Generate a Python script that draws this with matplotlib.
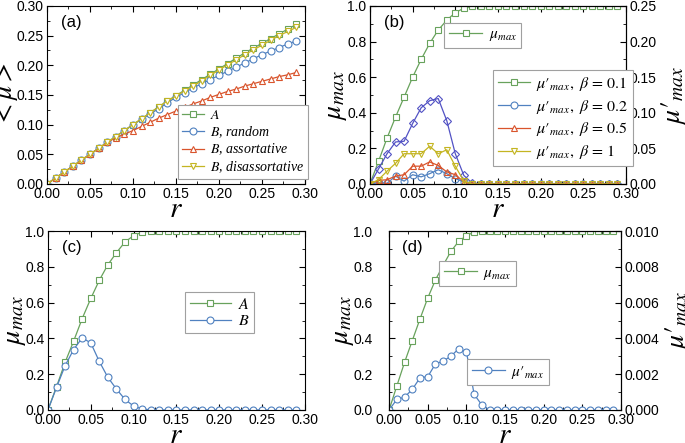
import numpy as np
import matplotlib
matplotlib.use("Agg")
import matplotlib.pyplot as plt
from matplotlib.lines import Line2D
from matplotlib.ticker import MultipleLocator

plt.rcParams['font.family'] = ['Liberation Sans', 'DejaVu Sans']
plt.rcParams['mathtext.fontset'] = 'stix'

r = np.round(np.arange(30) * 0.01, 2)

# panel (a)
a_A = [0, 0.01, 0.02, 0.03, 0.04, 0.05, 0.06, 0.07, 0.08, 0.09, 0.10, 0.11, 0.12, 0.13, 0.14,
       0.149, 0.158, 0.167, 0.176, 0.185, 0.194, 0.203, 0.212, 0.221, 0.229, 0.237, 0.245,
       0.253, 0.261, 0.269]
a_rand = [0, 0.01, 0.02, 0.03, 0.04, 0.05, 0.06, 0.07, 0.08, 0.09, 0.10, 0.109, 0.118, 0.127,
          0.137, 0.146, 0.154, 0.162, 0.169, 0.176, 0.183, 0.190, 0.197, 0.204, 0.211, 0.218,
          0.224, 0.230, 0.236, 0.241]
a_assort = [0, 0.01, 0.02, 0.03, 0.04, 0.05, 0.06, 0.07, 0.078, 0.084, 0.090, 0.097, 0.104,
            0.111, 0.117, 0.123, 0.129, 0.135, 0.140, 0.146, 0.151, 0.156, 0.160, 0.165, 0.169,
            0.173, 0.177, 0.181, 0.184, 0.188]
a_disassort = [0, 0.01, 0.02, 0.03, 0.04, 0.05, 0.06, 0.07, 0.08, 0.09, 0.10, 0.11, 0.12, 0.13,
               0.14, 0.148, 0.157, 0.165, 0.174, 0.183, 0.192, 0.201, 0.209, 0.218, 0.226,
               0.234, 0.242, 0.250, 0.257, 0.264]

# panel (b)
b_mu = [0, 0.127, 0.258, 0.376, 0.488, 0.60, 0.70, 0.79, 0.865, 0.92, 0.963, 0.987] + [1.0] * 18
b_beta01 = [0, 0.021, 0.0425, 0.059, 0.060, 0.085, 0.107, 0.117, 0.120, 0.089, 0.0425, 0.012,
            0.001] + [0] * 17
b_beta02 = [0, 0.002, 0.001, 0.011, 0.004, 0.013, 0.010, 0.0145, 0.020, 0.0145, 0.0075, 0.003,
            0] + [0] * 17
b_beta05 = [0, 0.005, 0.006, 0.011, 0.013, 0.025, 0.025, 0.031, 0.026, 0.017, 0.013, 0.003,
            0] + [0] * 17
b_beta1 = [0, 0.006, 0.018, 0.029, 0.0425, 0.0425, 0.0425, 0.053, 0.0425, 0.048, 0.025, 0.004,
           0] + [0] * 17

# panel (c)
c_A = [0, 0.13, 0.266, 0.385, 0.511, 0.623, 0.725, 0.812, 0.879, 0.939, 0.974, 0.994] + [1.0] * 18
c_B = [0, 0.126, 0.247, 0.338, 0.403, 0.375, 0.271, 0.182, 0.117, 0.059, 0.022, 0.006,
       0.001] + [0] * 17

# panel (d)
d_mu = [0, 0.134, 0.266, 0.388, 0.509, 0.626, 0.727, 0.809, 0.887, 0.942, 0.974, 0.994] + [1.0] * 18
d_mup = [0, 0.00059, 0.00072, 0.00115, 0.0018, 0.00186, 0.00258, 0.00273, 0.00301, 0.00342,
         0.00325, 0.00087, 0.00028] + [0] * 17

GREEN = '#68a25c'
BLUE = '#5081c0'
ORANGE = '#d9542c'
YELLOW = '#c4b522'
PURPLE = '#5252c4'

MU = r'$\mu_{max}$'
MUP = r'$\mu\prime_{max}$'

W, H = 685, 443


def style(ax, ymaj, right=True, ypad=2.5):
    ax.set_xlim(0, 0.30)
    ax.xaxis.set_major_locator(MultipleLocator(0.05))
    ax.xaxis.set_minor_locator(MultipleLocator(0.025))
    ax.yaxis.set_major_locator(MultipleLocator(ymaj))
    ax.yaxis.set_minor_locator(MultipleLocator(ymaj / 2))
    ax.tick_params(which='both', direction='in', top=True, right=right, labelsize=10,
                   pad=2.5)
    ax.tick_params(axis='y', which='both', pad=ypad)
    ax.tick_params(which='major', length=4)
    ax.tick_params(which='minor', length=2)
    ax.xaxis.set_major_formatter(plt.FormatStrFormatter('%.2f'))
    ax.set_xlabel('$r$', fontsize=21)
    ax.xaxis.set_label_coords(0.5, -0.06)


def right_axis(ax2, top, step, fmt):
    ax2.set_ylim(0, top)
    ax2.yaxis.set_major_locator(MultipleLocator(step))
    ax2.yaxis.set_minor_locator(MultipleLocator(step / 2))
    ax2.yaxis.set_major_formatter(plt.FormatStrFormatter(fmt))
    ax2.tick_params(which='both', direction='in', labelsize=10, pad=2.5)
    ax2.tick_params(which='major', length=4)
    ax2.tick_params(which='minor', length=2)


def ylab(text, x, y, size=20):
    # y-axis titles placed in figure pixels (from the top-left corner)
    fig.text(x / W, 1 - y / H, text, rotation=90, ha='center', va='center', fontsize=size)


def line(ax, y, c, m, ms=5, mfc='white', **kw):
    return ax.plot(r, y, color=c, marker=m, ms=ms, mfc=mfc, mec=c, lw=0.9, mew=0.8, **kw)[0]


def box(leg):
    leg.get_frame().set_linewidth(0.8)
    leg.get_frame().set_edgecolor('#a0a0a0')
    return leg


LEGKW = dict(loc='upper left', fancybox=False, framealpha=1, handlelength=2.2,
             borderpad=0.3, handletextpad=0.4, borderaxespad=0)

fig = plt.figure(figsize=(6.85, 4.43), dpi=100)

# (a)
ax = fig.add_axes([0.0686, 0.5847, 0.3766, 0.4018])
line(ax, a_A, GREEN, 's', label='$A$')
line(ax, a_rand, BLUE, 'o', label='$B$, random')
line(ax, a_assort, ORANGE, '^', label='$B$, assortative')
line(ax, a_disassort, YELLOW, 'v', label='$B$, disassortative')
style(ax, 0.05)
ax.set_ylim(0, 0.30)
ax.yaxis.set_major_formatter(plt.FormatStrFormatter('%.2f'))
ylab(r'$<\mu>$', 7, 95)
ax.text(0.055, 0.95, '(a)', transform=ax.transAxes, fontsize=12, va='top')
box(ax.legend(prop=dict(family='Liberation Serif', style='italic', size=10),
              bbox_to_anchor=(0.507, 0.445), labelspacing=0.15,
              **{**LEGKW, 'handlelength': 1.6}))

# (b)
ax = fig.add_axes([0.5401, 0.5847, 0.3737, 0.4018])
h_mu = line(ax, b_mu, GREEN, 's')
style(ax, 0.2, right=False)
ax.set_ylim(0, 1.0)
ax.yaxis.set_major_formatter(plt.FormatStrFormatter('%.1f'))
ylab(MU, 336, 95)
ax.text(0.055, 0.95, '(b)', transform=ax.transAxes, fontsize=12, va='top')
ax2 = ax.twinx()
line(ax2, b_beta01, PURPLE, 'D', ms=4.5, mfc='none')
line(ax2, b_beta02, BLUE, 'o', mfc='none')
line(ax2, b_beta05, ORANGE, '^', mfc='none')
line(ax2, b_beta1, YELLOW, 'v', mfc='none')
right_axis(ax2, 0.25, 0.05, '%.2f')
ylab(MUP, 673, 95)
l1 = box(ax2.legend([h_mu], [MU], bbox_to_anchor=(0.29, 0.905), fontsize=11, **LEGKW))
ax2.add_artist(l1)
prox = [Line2D([], [], color=c, marker=m, ms=5, mfc='white', mec=c, lw=0.9, mew=0.8)
        for c, m in [(GREEN, 's'), (BLUE, 'o'), (ORANGE, '^'), (YELLOW, 'v')]]
labs = [MUP[:-1] + r',\ \beta\,=\,0.1$', MUP[:-1] + r',\ \beta\,=\,0.2$',
        MUP[:-1] + r',\ \beta\,=\,0.5$', MUP[:-1] + r',\ \beta\,=\,1$']
box(ax2.legend(prox, labs, bbox_to_anchor=(0.48, 0.64), fontsize=11.5,
               labelspacing=0.3, **{**LEGKW, 'handlelength': 2.0}))

# (c)
ax = fig.add_axes([0.070, 0.0745, 0.375, 0.404])
line(ax, c_A, GREEN, 's', label='$A$')
line(ax, c_B, BLUE, 'o', label='$B$')
style(ax, 0.2)
ax.set_ylim(0, 1.0)
ax.yaxis.set_major_formatter(plt.FormatStrFormatter('%.1f'))
ylab(MU, 15, 320)
ax.text(0.055, 0.95, '(c)', transform=ax.transAxes, fontsize=12, va='top')
box(ax.legend(bbox_to_anchor=(0.533, 0.659), fontsize=11.5, labelspacing=0.1,
              **{**LEGKW, 'handlelength': 2.6}))

# (d)
ax = fig.add_axes([0.568, 0.0745, 0.3387, 0.404])
h_mu = line(ax, d_mu, GREEN, 's')
style(ax, 0.2, right=False, ypad=12)
ax.set_ylim(0, 1.0)
ax.yaxis.set_major_formatter(plt.FormatStrFormatter('%.1f'))
ylab(MU, 343, 320)
ax.text(0.055, 0.95, '(d)', transform=ax.transAxes, fontsize=12, va='top')
ax2 = ax.twinx()
h_mup = line(ax2, d_mup, BLUE, 'o')
right_axis(ax2, 0.010, 0.002, '%.3f')
ylab(MUP, 677, 320)
l1 = box(ax2.legend([h_mu], [MU], bbox_to_anchor=(0.216, 0.832), fontsize=11, **LEGKW))
ax2.add_artist(l1)
box(ax2.legend([h_mup], [MUP], bbox_to_anchor=(0.336, 0.285), fontsize=11, **LEGKW))

fig.savefig('out.png', dpi=100)
